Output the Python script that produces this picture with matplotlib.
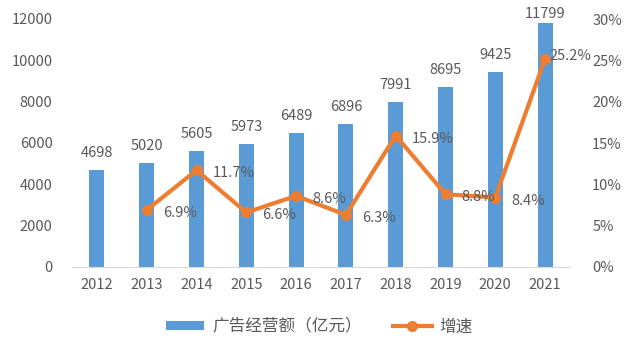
import numpy as np
import matplotlib.pyplot as plt
from matplotlib.ticker import FuncFormatter

plt.rcParams['font.family'] = ['Noto Sans CJK SC', 'DejaVu Sans']

# ========== DATA ==========
years = ['2012', '2013', '2014', '2015', '2016', '2017', '2018', '2019', '2020', '2021']
revenue = [4698, 5020, 5605, 5973, 6489, 6896, 7991, 8695, 9425, 11799]
growth_years = years[1:]
growth = [6.9, 11.7, 6.6, 8.6, 6.3, 15.9, 8.8, 8.4, 25.2]
# ==========================

BLUE = '#5B9BD5'
ORANGE = '#ED7D31'
TXT = '#595959'

fig = plt.figure(figsize=(6.26, 3.48), dpi=100)
ax = fig.add_axes([72 / 626, 1 - 267 / 348, (570 - 72) / 626, (267 - 19) / 348])
x = np.arange(len(years))

bars = ax.bar(x, revenue, width=0.3, color=BLUE, label='广告经营额（亿元）', zorder=2)
for i, (xi, v) in enumerate(zip(x, revenue)):
    dy = 5 if i == len(revenue) - 1 else 13  # top label is squeezed in, like the original
    ax.annotate(str(v), (xi, v), xytext=(0, dy), textcoords='offset pixels',
                ha='center', va='baseline', fontsize=10.5, color=TXT, zorder=5)

ax.set_xlim(-0.5, len(years) - 0.5)
ax.set_ylim(0, 12000)
ax.set_yticks(range(0, 12001, 2000))
ax.set_xticks(x)
ax.set_xticklabels(years)
for s in ['top', 'right', 'left']:
    ax.spines[s].set_visible(False)
ax.spines['bottom'].set_color('#D9D9D9')
ax.tick_params(axis='both', length=0, colors=TXT, labelsize=10.5)
ax.tick_params(axis='y', pad=14)
ax.tick_params(axis='x', pad=8)

ax2 = ax.twinx()
xg = x[1:]
line, = ax2.plot(xg, growth, color=ORANGE, lw=3, marker='o', markersize=7,
                 label='增速', zorder=4)
for i, (xi, g) in enumerate(zip(xg, growth)):
    if i == len(growth) - 1:
        off = (4, -1)
    else:
        off = (16, -7)
    ax2.annotate(f'{g}%', (xi, g), xytext=off, textcoords='offset pixels',
                 ha='left', va='baseline', fontsize=10.5, color=TXT, zorder=6)
ax2.set_ylim(0, 30)
ax2.set_yticks(range(0, 31, 5))
ax2.yaxis.set_major_formatter(FuncFormatter(lambda v, p: f'{int(v)}%'))
for s in ['top', 'right', 'left', 'bottom']:
    ax2.spines[s].set_visible(False)
ax2.tick_params(axis='y', length=0, colors=TXT, labelsize=10.5, pad=16)

fig.legend([bars, line], ['广告经营额（亿元）', '增速'], loc='center',
           bbox_to_anchor=(0.51, 1 - 327 / 348), ncol=2, frameon=False,
           fontsize=12, labelcolor=TXT, handlelength=2.3, handleheight=0.5,
           handletextpad=0.45, columnspacing=1.9)

fig.savefig('out.png', dpi=100)
